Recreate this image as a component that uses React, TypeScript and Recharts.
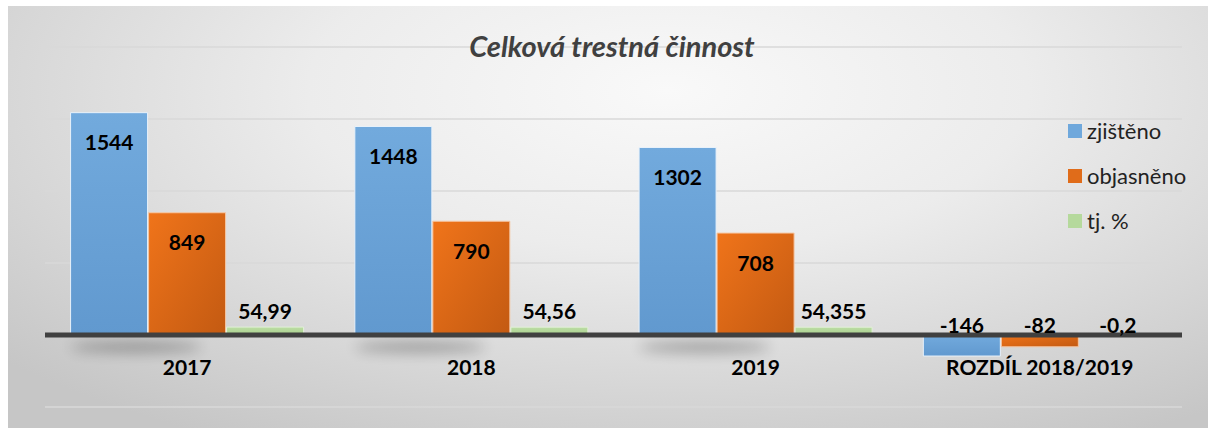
import React from "react";
import {
  BarChart, Bar, XAxis, YAxis, CartesianGrid, ReferenceLine, LabelList, Legend, Rectangle
} from "recharts";

const categories = ["2017", "2018", "2019", "ROZDÍL 2018/2019"];
const zjisteno = [1544, 1448, 1302, -146];
const objasneno = [849, 790, 708, -82];
const tjProcent = [54.99, 54.56, 54.355, -0.2];
const yTicks = [-500, 0, 500, 1000, 1500, 2000];

const seriesNames = ["zjištěno", "objasněno", "tj. %"];
const legendColors = ["#6fa8dc", "#e06c1a", "#b5d99c"];

const data = categories.map((name, i) => ({
  name,
  zjisteno: zjisteno[i],
  objasneno: objasneno[i],
  tj: tjProcent[i],
}));

const FONT = "Lato, 'Open Sans', sans-serif";

const renderValue = (props: any) => {
  const { x, y, width, height, value } = props;
  const base = y + height;
  const top = Math.min(y, base);
  let ly;
  if (value >= 200) ly = top + 29;
  else if (value >= 0) ly = top - 17;
  else ly = base - 11;
  return (
    <text
      x={x + width / 2}
      y={ly}
      textAnchor="middle"
      dominantBaseline="central"
      fontFamily={FONT}
      fontWeight={700}
      fontSize={21}
      fill="#000"
    >
      {String(value).replace(".", ",")}
    </text>
  );
};

// category name under the axis, centred on the middle bar of each group
const renderCategory = (props: any) => {
  const { x, y, width, height, value } = props;
  const base = y + height;
  return (
    <text
      x={x + width / 2}
      y={base + 31}
      textAnchor="middle"
      dominantBaseline="central"
      fontFamily={FONT}
      fontWeight={700}
      fontSize={21}
      fill="#000"
    >
      {value}
    </text>
  );
};

const ShadowBar = (props: any) => {
  const { x, y, width, height, value } = props;
  const base = y + height;
  return (
    <g>
      {value > 0 && (
        <ellipse
          cx={x + width * 0.85}
          cy={base + 12}
          rx={width * 0.85}
          ry={5}
          fill="#000"
          opacity={0.32}
          filter="url(#blurShadow)"
        />
      )}
      <Rectangle {...props} />
    </g>
  );
};

const LegendBox = () => (
  <div style={{ fontFamily: FONT, fontSize: 22, color: "#222" }}>
    {seriesNames.map((n, i) => (
      <div key={n} style={{ height: 45, display: "flex", alignItems: "center" }}>
        <span
          style={{
            width: 14, height: 14, background: legendColors[i],
            display: "inline-block", marginRight: 5,
          }}
        />
        <span>{n}</span>
      </div>
    ))}
  </div>
);

export default function App() {
  return (
    <div
      style={{
        position: "absolute", left: 8, top: 6, width: 1200, height: 422,
        background:
          "radial-gradient(ellipse 75% 95% at 55% 20%, #f9f9f9 0%, #ececec 40%, #d6d6d6 75%, #c6c6c6 100%)",
      }}
    >
      <BarChart
        width={1200}
        height={422}
        data={data}
        margin={{ top: 41, right: 26, bottom: 21, left: 37 }}
        barCategoryGap="9%"
        barGap={1}
        style={{ position: "absolute", left: 0, top: 0 }}
      >
        <defs>
          <linearGradient id="gBlue" x1="0" y1="0" x2="0" y2="1">
            <stop offset="0%" stopColor="#72aadd" />
            <stop offset="100%" stopColor="#6199cf" />
          </linearGradient>
          <linearGradient id="gOrange" x1="0" y1="0" x2="1" y2="1">
            <stop offset="0%" stopColor="#f0741a" />
            <stop offset="100%" stopColor="#c35a12" />
          </linearGradient>
          <linearGradient id="gGreen" x1="0" y1="0" x2="0" y2="1">
            <stop offset="0%" stopColor="#bcdda4" />
            <stop offset="100%" stopColor="#a9d08e" />
          </linearGradient>
          <filter id="blurShadow" x="-50%" y="-200%" width="200%" height="500%">
            <feGaussianBlur stdDeviation="7" />
          </filter>
        </defs>
        <CartesianGrid vertical={false} stroke="#d9d9d9" strokeWidth={1.5} />
        <XAxis dataKey="name" hide />
        <YAxis hide domain={[-500, 2000]} ticks={yTicks} />
        <Legend
          layout="vertical"
          align="center"
          verticalAlign="middle"
          content={<LegendBox />}
          wrapperStyle={{ left: 1060, top: 102, width: 140 }}
        />
        <Bar dataKey="zjisteno" name={seriesNames[0]} fill="url(#gBlue)" stroke="#e8f1fa" strokeWidth={1} shape={<ShadowBar />} isAnimationActive={false}>
          <LabelList dataKey="zjisteno" content={renderValue} />
        </Bar>
        <Bar dataKey="objasneno" name={seriesNames[1]} fill="url(#gOrange)" stroke="#f6c7a4" strokeWidth={1} isAnimationActive={false}>
          <LabelList dataKey="objasneno" content={renderValue} />
          <LabelList dataKey="name" content={renderCategory} />
        </Bar>
        <Bar dataKey="tj" name={seriesNames[2]} fill="url(#gGreen)" stroke="#e2f0d8" strokeWidth={1} isAnimationActive={false}>
          <LabelList dataKey="tj" content={renderValue} />
        </Bar>
        <ReferenceLine y={0} stroke="#404040" strokeWidth={5} />
      </BarChart>
      <div
        style={{
          position: "absolute", left: 0, width: 1208, top: 23, textAlign: "center",
          fontFamily: FONT, fontWeight: 700, fontStyle: "italic", fontSize: 29,
          color: "#404040", lineHeight: "34px",
        }}
      >
        Celková trestná činnost
      </div>
    </div>
  );
}
